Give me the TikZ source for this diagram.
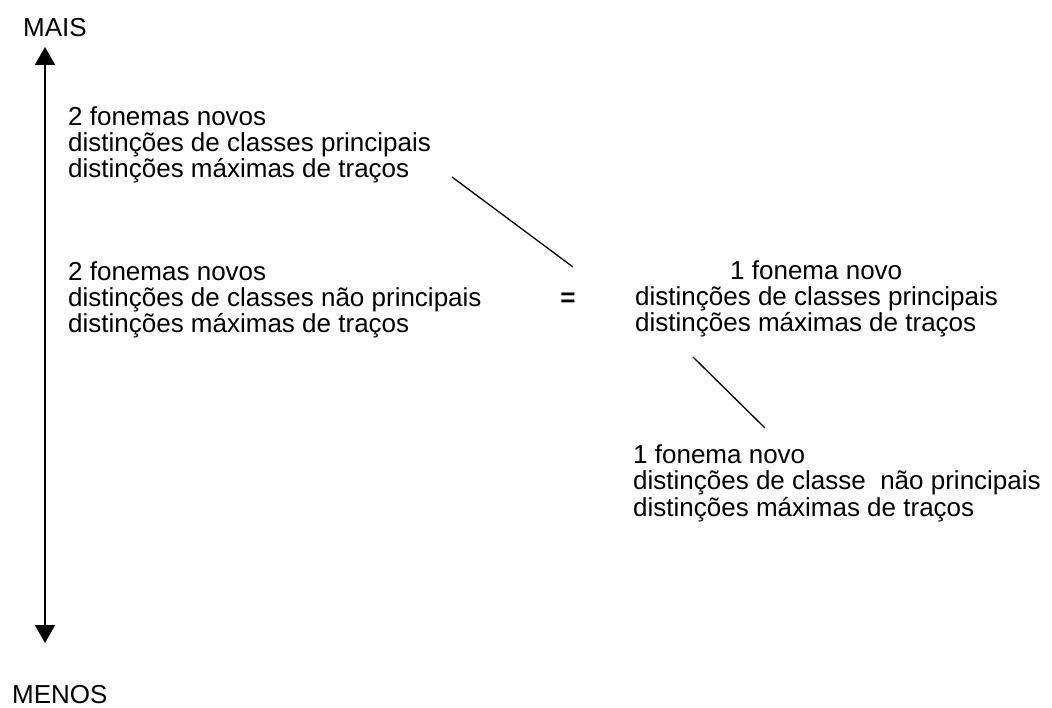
\documentclass[tikz,border=0pt]{standalone}
\usepackage{fontspec}
\setmainfont{Liberation Sans}
\usepackage{tikz}
\usetikzlibrary{arrows.meta, positioning}
\tikzset{
    label/.style={inner sep=0pt, anchor=base west, align=left, font=\fontsize{26}{26.3}\selectfont},
    axis/.style={{Triangle[width=20pt, length=18pt]}-{Triangle[width=20pt, length=18pt]}, line width=2pt},
    link/.style={line width=1.3pt}
}

\begin{document}
\begin{tikzpicture}[x=1pt, y=-1pt]
            \useasboundingbox (0,0) rectangle (1052,708);
            % base of a block = its last line
            \node (mais) [label] at (23,37) {MAIS};
            \node (menos) [label] at (12,703) {MENOS};
            \coordinate (axtop) at (45,47);
            \coordinate (axbot) at (45,643);
            \node (duasprinc) [label] at (68,178) {2 fonemas novos\\distinções de classes principais\\distinções máximas de traços};
            \node (duasnaoprinc) [label] at (68,333) {2 fonemas novos\\distinções de classes não principais\\distinções máximas de traços};
            \node (igual) [label, anchor=base, font=\fontsize{26}{26.3}\selectfont\bfseries] at (568,307) {=};
            \node (umprinc) [label] at (635,332) {\hspace*{95pt}1 fonema novo\\distinções de classes principais\\distinções máximas de traços};
            \node (umnaoprinc) [label] at (633,516) {1 fonema novo\\distinções de classe~ não principais\\distinções máximas de traços};
            \coordinate (l1a) at (452,177);
            \coordinate (l1b) at (573,267);
            \coordinate (l2a) at (693,357);
            \coordinate (l2b) at (765,428);

            \draw[axis] (axtop) -- (axbot);
            \draw[link] (l1a) -- (l1b);
            \draw[link] (l2a) -- (l2b);
        \end{tikzpicture}
\end{document}
